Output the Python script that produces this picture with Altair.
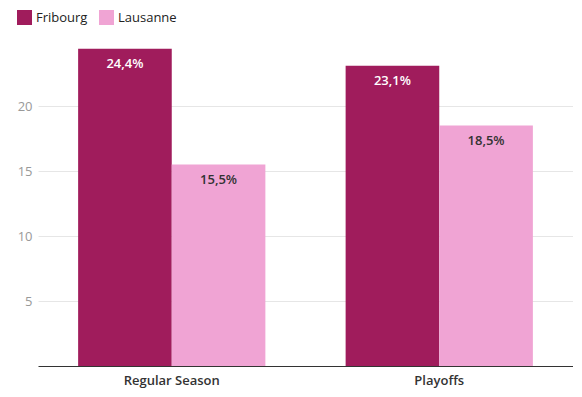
import altair as alt
import pandas as pd

categories = ["Regular Season", "Playoffs"]
teams = ["Fribourg", "Lausanne"]
fribourg = [24.4, 23.1]
lausanne = [15.5, 18.5]
label_fribourg = ["24,4%", "23,1%"]
label_lausanne = ["15,5%", "18,5%"]
colors = ["#a01c5c", "#f0a4d4"]

rows = []
for i, c in enumerate(categories):
    rows.append({"Category": c, "Team": "Fribourg", "Value": fribourg[i], "Label": label_fribourg[i]})
    rows.append({"Category": c, "Team": "Lausanne", "Value": lausanne[i], "Label": label_lausanne[i]})
df = pd.DataFrame(rows)

FONT = "Open Sans"

x = alt.X("Category:N", sort=categories, title=None,
          scale=alt.Scale(paddingInner=0.3, paddingOuter=0.15),
          axis=alt.Axis(labelAngle=0, ticks=False, domainColor="#333333", domainWidth=1,
                        labelColor="#333333", labelFontSize=13, labelFontWeight=600,
                        labelFont=FONT, labelPadding=8, grid=False))
xoff = alt.XOffset("Team:N", sort=teams)
y = alt.Y("Value:Q", title=None, scale=alt.Scale(domain=[0, 25], nice=False),
          axis=alt.Axis(values=[5, 10, 15, 20], ticks=False, domain=False,
                        labelColor="#999999", labelFontSize=13, labelFont=FONT,
                        labelPadding=6, gridColor="#e6e6e6", gridWidth=1))
color = alt.Color("Team:N", sort=teams, scale=alt.Scale(domain=teams, range=colors),
                  legend=alt.Legend(title=None, orient="none", direction="horizontal",
                                    legendX=-21, legendY=-31, symbolType="square",
                                    symbolSize=225, symbolStrokeWidth=0, symbolOpacity=1,
                                    labelFontSize=13, labelFontWeight=500, labelColor="#222222",
                                    labelFont=FONT, columnPadding=11, labelOffset=4))

bars = alt.Chart(df).mark_bar(opacity=1).encode(x=x, xOffset=xoff, y=y, color=color)

text = alt.Chart(df).mark_text(baseline="middle", dy=15, fontSize=13, fontWeight=600, font=FONT).encode(
    x=x,
    xOffset=xoff,
    y=y,
    text="Label:N",
    color=alt.Color("Team:N", scale=alt.Scale(domain=teams, range=["#ffffff", "#333333"]), legend=None),
)

chart = alt.layer(bars, text).resolve_scale(color="independent").properties(
    width=535, height=325,
    autosize=alt.AutoSizeParams(type="none"),
    padding={"left": 30, "top": 33, "right": 0, "bottom": 30},
).configure(font=FONT).configure_view(strokeWidth=0, stroke="transparent")

chart.save("out.html", embed_options={"renderer": "svg", "actions": False})
